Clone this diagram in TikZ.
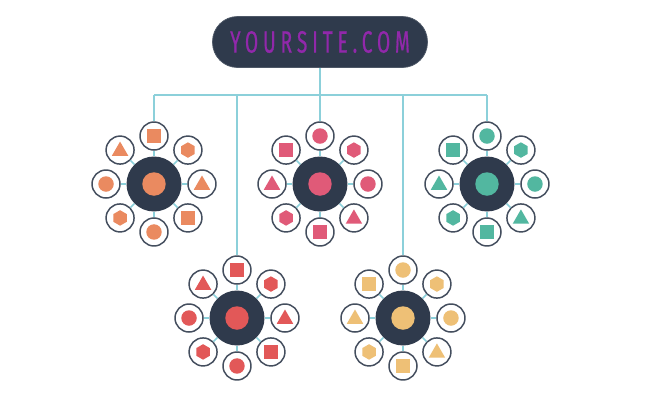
\documentclass[tikz,border=0pt]{standalone}
\usepackage{fontspec}
\usepackage{tikz}
\newfontfamily\sitefont[FakeStretch=0.62,LetterSpace=16,FakeBold=0.6]{Fira Sans}
\definecolor{navy}{HTML}{2F3A4C}
\definecolor{cline}{HTML}{8CD0DA}
\definecolor{csite}{HTML}{9128AA}
\definecolor{corange}{HTML}{EA8A60}
\definecolor{cpink}{HTML}{E05A78}
\definecolor{cteal}{HTML}{52B7A0}
\definecolor{cred}{HTML}{E25858}
\definecolor{cyellow}{HTML}{EEC076}
\tikzstyle{sitebox}=[rectangle, rounded corners=0.5cm, fill=navy, draw=navy!85!white,
    minimum width=4.3cm, minimum height=1.02cm, text=csite]
\tikzstyle{hub}=[circle, fill=navy, minimum size=1.1cm, inner sep=0pt,
    path picture={\fill[#1] (path picture bounding box.center) circle (0.235cm);}]
\tikzstyle{sat}=[circle, draw=navy!90!white, fill=white, line width=0.85pt, minimum size=0.56cm, inner sep=0pt]
\tikzstyle{satdot}=[sat,
    path picture={\fill[#1] (path picture bounding box.center) circle (0.155cm);}]
\tikzstyle{satsq}=[sat,
    path picture={\fill[#1] ([shift={(-0.135cm,-0.135cm)}]path picture bounding box.center)
      rectangle ([shift={(0.135cm,0.135cm)}]path picture bounding box.center);}]
\tikzstyle{sathex}=[sat,
    path picture={\fill[#1, shift={(path picture bounding box.center)}]
      (90:0.155cm) -- (150:0.155cm) -- (210:0.155cm) -- (270:0.155cm) -- (330:0.155cm) -- (30:0.155cm) -- cycle;}]
\tikzstyle{sattri}=[sat,
    path picture={\fill[#1, shift={(path picture bounding box.center)}]
      ([yshift=-0.02cm]90:0.19cm) -- ([yshift=-0.02cm]210:0.19cm) -- ([yshift=-0.02cm]330:0.19cm) -- cycle;}]
\tikzstyle{spoke}=[draw=cline, line width=0.85pt]
\tikzstyle{branch}=[draw=cline, line width=0.9pt]

\begin{document}
\begin{tikzpicture}[x=0.02cm, y=-0.02cm]
\useasboundingbox (0,0) rectangle (660,400);
\node[sitebox] (site) at (320,42) {\sitefont\fontsize{17.5}{17.5}\selectfont YOURSITE.COM};
\node[hub=corange] (hub1) at (154,184){};
\node[hub=cpink] (hub2) at (320,184){};
\node[hub=cteal] (hub3) at (487,184){};
\node[hub=cred] (hub4) at (237,318){};
\node[hub=cyellow] (hub5) at (403,318){};
\foreach \n/\col in {1/corange,4/cred}
  \foreach \a/\s [count=\i] in {90/satsq,45/sathex,0/sattri,-45/satsq,-90/satdot,-135/sathex,180/satdot,135/sattri}{
    \node[\s=\col] (sat\n-\i) at ([shift={(\a:0.96cm)}]hub\n) {};
    \draw[spoke] (hub\n) -- (sat\n-\i);
  }
\foreach \n/\col in {2/cpink,3/cteal,5/cyellow}
  \foreach \a/\s [count=\i] in {90/satdot,45/sathex,0/satdot,-45/sattri,-90/satsq,-135/sathex,180/sattri,135/satsq}{
    \node[\s=\col] (sat\n-\i) at ([shift={(\a:0.96cm)}]hub\n) {};
    \draw[spoke] (hub\n) -- (sat\n-\i);
  }
\coordinate (j1) at (154,95);
\coordinate (j2) at (237,95);
\coordinate (j3) at (320,95);
\coordinate (j4) at (403,95);
\coordinate (j5) at (487,95);
\draw[branch] (site) -- (j3);
\draw[branch] (j1) -- (j5);
\draw[branch] (j1) -- (sat1-1);
\draw[branch] (j2) -- (sat4-1);
\draw[branch] (j3) -- (sat2-1);
\draw[branch] (j4) -- (sat5-1);
\draw[branch] (j5) -- (sat3-1);
\end{tikzpicture}
\end{document}
